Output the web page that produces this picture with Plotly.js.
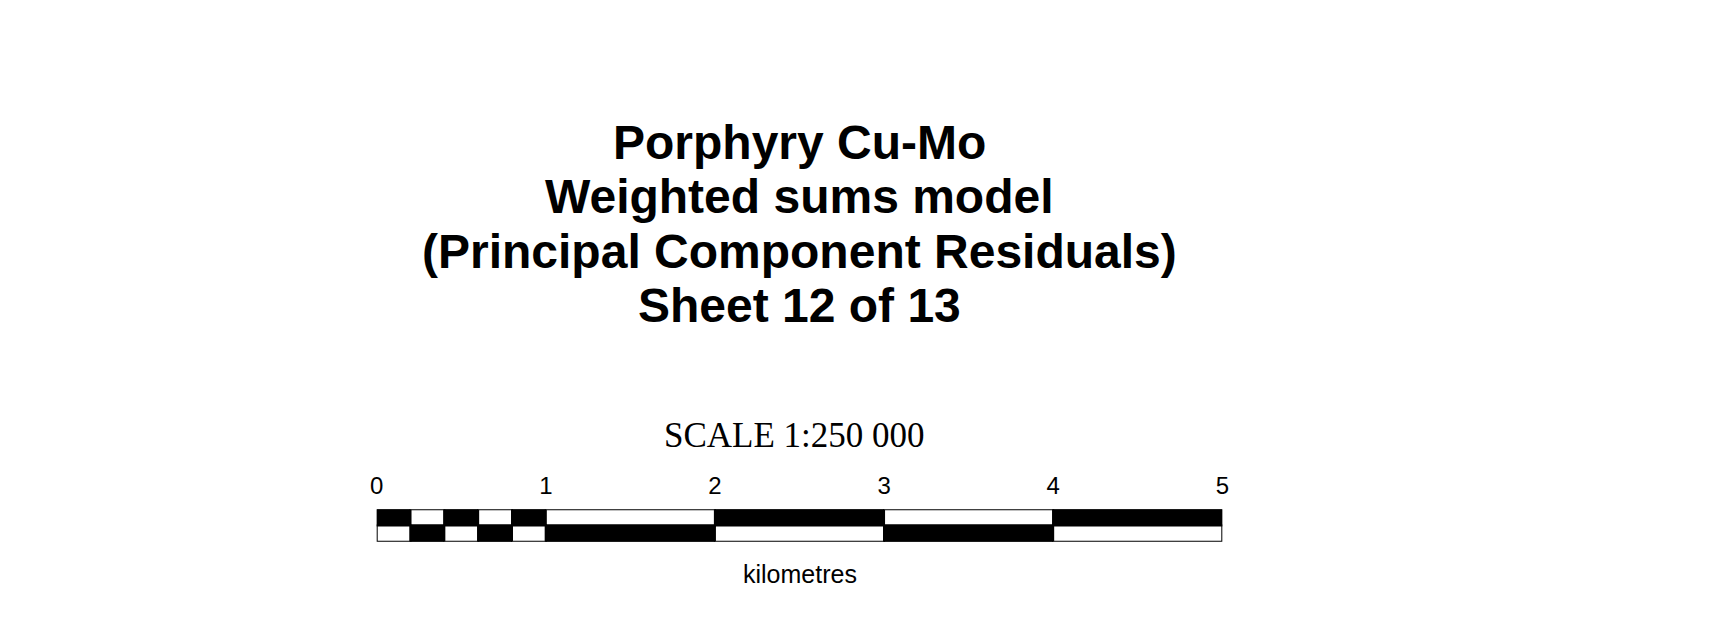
<!DOCTYPE html>
<html>
<head>
<meta charset="utf-8">
<script src="https://cdn.plot.ly/plotly-3.0.1.min.js"></script>
<style>html,body{margin:0;padding:0;background:#fff;}#chart{width:1711px;height:619px;}</style>
</head>
<body>
<div id="chart"></div>
<script>
// ---- data ----
const titleLines = ["Porphyry Cu-Mo", "Weighted sums model", "(Principal Component Residuals)", "Sheet 12 of 13"];
const scaleText = "SCALE 1:250 000";
const unitLabel = "kilometres";
const tickValues = [0, 1, 2, 3, 4, 5];
const tickLabels = ["0", "1", "2", "3", "4", "5"];
const segmentStart  = [0, 0.2, 0.4, 0.6, 0.8, 1, 2, 3, 4];
const segmentLength = [0.2, 0.2, 0.2, 0.2, 0.2, 1, 1, 1, 1];
const topFilled     = [1, 0, 1, 0, 1, 0, 1, 0, 1];
const bottomFilled  = [0, 1, 0, 1, 0, 1, 0, 1, 0];

// ---- drawing ----
const W = 1711, H = 619;
const py = p => 1 - p / H;
const px = p => p / W;
const shade = f => f ? "#000000" : "#ffffff";
const sans = "Liberation Sans, Arial, Helvetica, sans-serif";
const serif = "Liberation Serif, Times New Roman, serif";

function row(name, filled) {
  return {
    type: "bar", orientation: "h",
    y: segmentStart.map(() => name),
    x: segmentLength, base: segmentStart,
    marker: { color: filled.map(shade), line: { color: "#000000", width: 2 } },
    width: 1, cliponaxis: false, hoverinfo: "skip", showlegend: false
  };
}

const titleY = [142.7, 197.0, 251.3, 305.6];
const annotations = titleLines.map((t, i) => ({
  text: "<b>" + t + "</b>", xref: "paper", yref: "paper",
  x: px(799.5), y: py(titleY[i]), xanchor: "center", yanchor: "middle",
  showarrow: false, font: { family: sans, size: 48, color: "#000" }
}));
annotations.push({
  text: scaleText, xref: "paper", yref: "paper", x: px(794), y: py(435.5),
  xanchor: "center", yanchor: "middle", showarrow: false,
  font: { family: serif, size: 35, color: "#000" }
});
annotations.push({
  text: unitLabel, xref: "x", yref: "paper", x: 2.5, y: py(574),
  xanchor: "center", yanchor: "middle", showarrow: false,
  font: { family: sans, size: 25, color: "#000" }
});

const layout = {
  width: W, height: H, margin: { l: 0, r: 0, t: 0, b: 0 },
  paper_bgcolor: "#fff", plot_bgcolor: "rgba(0,0,0,0)",
  barmode: "overlay", bargap: 0, showlegend: false,
  xaxis: {
    domain: [px(376.7), px(1222.3)], range: [0, 5], side: "top",
    tickmode: "array", tickvals: tickValues, ticktext: tickLabels,
    ticks: "", ticklabelstandoff: 10, showgrid: false, zeroline: false, showline: false,
    tickfont: { family: sans, size: 24, color: "#000" }, fixedrange: true
  },
  yaxis: {
    domain: [py(541.7), py(509.3)], range: [-0.5, 1.5],
    type: "category", categoryorder: "array", categoryarray: ["bottom", "top"],
    visible: false, fixedrange: true
  },
  annotations: annotations
};

Plotly.newPlot("chart", [row("top", topFilled), row("bottom", bottomFilled)], layout, { displayModeBar: false, staticPlot: true });
</script>
</body>
</html>
